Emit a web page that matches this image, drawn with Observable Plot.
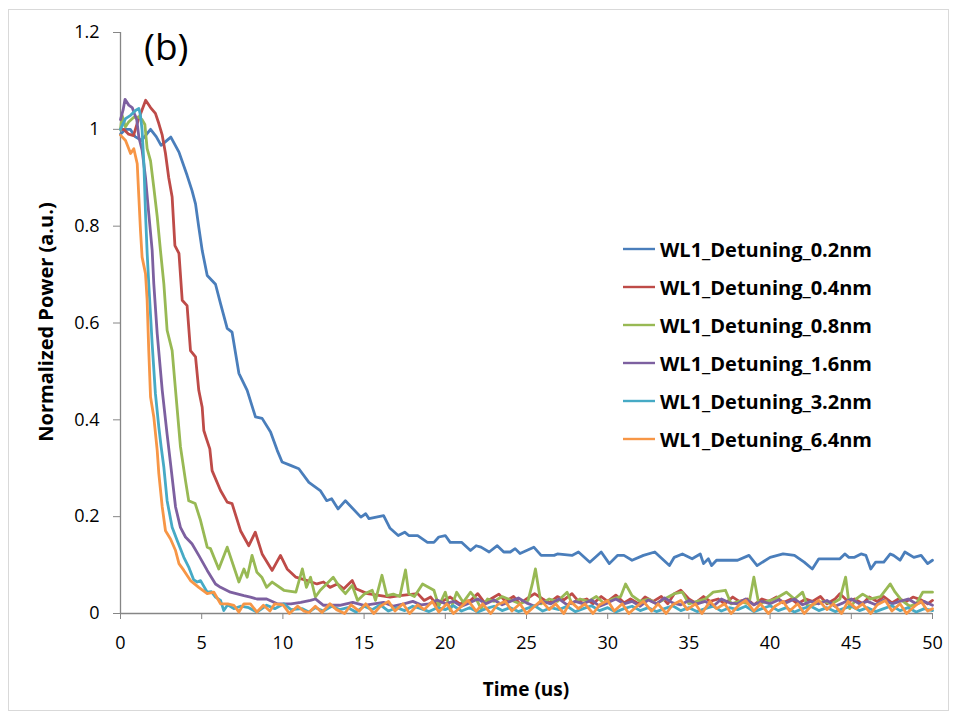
<!DOCTYPE html>
<html><head><meta charset="utf-8">
<script src="https://cdn.jsdelivr.net/npm/d3@7"></script>
<script src="https://cdn.jsdelivr.net/npm/@observablehq/plot@0.6"></script>
<style>
body{margin:0;background:#fff;}
#wrap{position:relative;width:956px;height:719px;font-family:"Open Sans",sans-serif;color:#000;overflow:hidden}
#frame{position:absolute;left:8px;top:9px;width:941px;height:702px;border:1px solid #d9d9d9;box-sizing:border-box;pointer-events:none}
#chart{position:absolute;left:0;top:0}
.lbl{position:absolute;font-weight:bold;font-size:19px;white-space:nowrap}
#xlab{left:0;width:1052px;top:676px;text-align:center}
#ylab{left:45px;top:322px;transform:translate(-50%,-50%) rotate(-90deg);font-size:20px}
#panel{position:absolute;left:144px;top:27px;font-size:37px;line-height:1}
#legend{position:absolute;left:623px;top:230px}
#legend .row{height:38px;display:flex;align-items:center;font-weight:bold;font-size:20px;white-space:nowrap}
#legend svg{margin-right:5px}
</style></head>
<body>
<div id="wrap">
  <div id="chart"></div>
  <div id="frame"></div>
  <div id="panel">(b)</div>
  <div id="xlab" class="lbl">Time (us)</div>
  <div id="ylab" class="lbl">Normalized Power (a.u.)</div>
  <div id="legend"></div>
</div>
<script>
const seriesNames = ["WL1_Detuning_0.2nm","WL1_Detuning_0.4nm","WL1_Detuning_0.8nm","WL1_Detuning_1.6nm","WL1_Detuning_3.2nm","WL1_Detuning_6.4nm"];
const seriesColors = ["#4A7EBB","#BE4B48","#98B954","#7D60A0","#46AAC5","#F79646"];
const xTicks = [0,5,10,15,20,25,30,35,40,45,50];
const yTicks = [0,0.2,0.4,0.6,0.8,1,1.2];
const yTickLabels = ["0","0.2","0.4","0.6","0.8","1","1.2"];

// [time (us), normalized power]
const det02 = [[0,0.99],[0.3,1.0],[0.6,1.0],[0.9,0.985],[1.3,0.977],[1.85,1.0],[2.2,0.985],[2.5,0.967],[3.1,0.984],[3.6,0.953],[4.1,0.905],[4.4,0.874],[4.62,0.846],[4.82,0.798],[5.03,0.75],[5.34,0.698],[5.85,0.68],[6.16,0.64],[6.57,0.589],[6.87,0.581],[7.29,0.496],[7.8,0.461],[8.31,0.406],[8.72,0.403],[9.24,0.375],[9.65,0.337],[9.95,0.313],[10.47,0.306],[10.98,0.299],[11.6,0.271],[12.3,0.254],[12.7,0.233],[13.0,0.237],[13.4,0.216],[13.85,0.233],[14.8,0.199],[15.1,0.206],[15.3,0.196],[16.2,0.202],[16.6,0.176],[17.1,0.161],[17.5,0.168],[17.75,0.161],[18.3,0.161],[18.9,0.147],[19.3,0.147],[19.6,0.158],[20.0,0.161],[20.3,0.147],[21.0,0.147],[21.55,0.130],[21.9,0.14],[22.2,0.137],[22.7,0.127],[23.2,0.14],[23.6,0.127],[24.0,0.127],[24.3,0.134],[24.6,0.124],[25.45,0.137],[25.9,0.12],[26.7,0.12],[26.9,0.123],[27.8,0.12],[28.2,0.127],[28.9,0.106],[29.6,0.127],[30.1,0.103],[30.6,0.12],[31.0,0.12],[31.5,0.11],[32.2,0.12],[32.9,0.127],[33.25,0.116],[33.8,0.099],[34.1,0.116],[34.6,0.123],[35.2,0.113],[35.7,0.123],[35.9,0.103],[36.2,0.113],[36.4,0.099],[36.7,0.11],[38.0,0.11],[38.7,0.12],[39.2,0.099],[40.0,0.116],[40.8,0.123],[41.5,0.12],[42.1,0.106],[42.6,0.092],[43.0,0.113],[44.3,0.113],[44.6,0.123],[44.85,0.116],[45.2,0.116],[45.6,0.123],[45.9,0.12],[46.2,0.092],[46.5,0.106],[47.0,0.106],[47.4,0.123],[47.6,0.12],[48.0,0.11],[48.3,0.127],[48.85,0.116],[49.3,0.12],[49.7,0.103],[50,0.11]];

const det04 = [[0,1.0],[0.2,1.0],[0.5,0.99],[0.8,0.987],[1.1,1.02],[1.55,1.06],[1.85,1.045],[2.15,1.033],[2.36,1.012],[2.57,0.988],[2.77,0.95],[2.97,0.9],[3.18,0.86],[3.35,0.76],[3.6,0.744],[3.8,0.647],[4.1,0.636],[4.31,0.543],[4.62,0.53],[4.82,0.461],[5.03,0.426],[5.13,0.378],[5.3,0.36],[5.5,0.34],[5.64,0.295],[6.16,0.254],[6.57,0.23],[6.87,0.227],[7.39,0.171],[7.9,0.14],[8.3,0.168],[8.72,0.123],[9.34,0.089],[9.85,0.12],[10.26,0.092],[10.8,0.075],[11.5,0.068],[12.1,0.061],[12.5,0.065],[12.9,0.054],[13.35,0.061],[13.75,0.051],[14.27,0.068],[14.5,0.051],[15.2,0.041],[16.0,0.037],[16.6,0.034],[17.2,0.037],[18.3,0.041],[18.7,0.027],[19.1,0.034],[19.5,0.017],[19.9,0.027],[20.3,0.034],[20.9,0.02],[21.55,0.027],[22.0,0.041],[22.4,0.023],[22.8,0.03],[23.3,0.04],[23.7,0.025],[24.2,0.035],[24.6,0.02],[25.0,0.03],[25.5,0.041],[26.0,0.03],[26.4,0.022],[26.9,0.035],[27.3,0.028],[27.8,0.041],[28.2,0.025],[28.7,0.03],[29.1,0.02],[29.6,0.035],[30.0,0.025],[30.5,0.038],[31.0,0.022],[31.4,0.03],[31.9,0.02],[32.3,0.034],[32.8,0.025],[33.3,0.035],[33.7,0.02],[34.1,0.041],[34.5,0.048],[35.0,0.03],[35.4,0.022],[35.9,0.035],[36.3,0.025],[36.8,0.03],[37.2,0.02],[37.7,0.034],[38.1,0.025],[38.6,0.03],[39.0,0.018],[39.5,0.03],[39.9,0.025],[40.4,0.034],[40.8,0.022],[41.3,0.03],[41.7,0.02],[42.2,0.03],[42.6,0.025],[43.1,0.035],[43.5,0.02],[44.0,0.03],[44.3,0.041],[44.8,0.025],[45.2,0.03],[45.7,0.02],[46.1,0.034],[46.6,0.025],[47.0,0.035],[47.5,0.022],[47.9,0.03],[48.4,0.025],[48.8,0.034],[49.3,0.028],[49.7,0.02],[50,0.027]];

const det08 = [[0,1.0],[0.1,1.029],[0.3,1.005],[0.5,1.015],[0.82,1.025],[1.13,1.025],[1.33,1.02],[1.5,1.01],[1.64,0.96],[1.85,0.935],[2.05,0.88],[2.26,0.82],[2.46,0.75],[2.67,0.681],[2.87,0.585],[3.18,0.543],[3.39,0.461],[3.69,0.345],[4.0,0.275],[4.2,0.233],[4.6,0.227],[4.93,0.192],[5.34,0.137],[5.54,0.134],[6.05,0.092],[6.57,0.137],[6.98,0.096],[7.29,0.065],[7.6,0.092],[7.8,0.075],[8.1,0.12],[8.4,0.085],[8.7,0.075],[9.0,0.054],[9.34,0.065],[10.06,0.048],[10.8,0.044],[11.2,0.092],[11.45,0.054],[11.7,0.075],[12.0,0.034],[12.3,0.048],[13.1,0.075],[13.5,0.054],[13.85,0.041],[14.27,0.058],[14.6,0.027],[15.0,0.04],[15.5,0.048],[15.7,0.027],[16.1,0.079],[16.4,0.037],[16.8,0.04],[17.2,0.035],[17.55,0.09],[17.75,0.041],[18.1,0.035],[18.6,0.061],[19.3,0.048],[19.6,0.015],[20.0,0.044],[20.3,0.006],[20.7,0.044],[21.1,0.023],[21.55,0.044],[21.9,0.03],[22.2,0.01],[22.6,0.03],[23.0,0.025],[23.5,0.035],[24.1,0.027],[24.6,0.02],[25.1,0.027],[25.35,0.06],[25.55,0.092],[25.75,0.05],[25.9,0.02],[26.4,0.03],[26.9,0.025],[27.5,0.044],[27.8,0.02],[28.3,0.03],[28.8,0.025],[29.3,0.035],[29.8,0.02],[30.3,0.03],[30.8,0.035],[31.1,0.061],[31.5,0.037],[32.0,0.025],[32.5,0.03],[33.0,0.02],[33.5,0.03],[34.1,0.041],[34.6,0.044],[35.0,0.02],[35.5,0.025],[36.0,0.03],[36.5,0.044],[37.25,0.048],[37.6,0.02],[38.1,0.025],[38.7,0.02],[39.0,0.075],[39.3,0.02],[39.8,0.025],[40.3,0.03],[41.0,0.044],[41.5,0.03],[42.0,0.044],[42.3,0.015],[42.8,0.02],[43.3,0.025],[43.8,0.02],[44.3,0.03],[44.65,0.075],[44.9,0.01],[45.3,0.03],[45.7,0.04],[46.2,0.03],[46.8,0.035],[47.4,0.061],[47.7,0.044],[48.1,0.027],[48.6,0.015],[49.0,0.02],[49.4,0.044],[50,0.044]];

const det16 = [[0,1.02],[0.16,1.04],[0.28,1.062],[0.51,1.05],[0.72,1.045],[0.86,1.032],[1.0,1.02],[1.13,0.984],[1.33,0.957],[1.54,0.90],[1.74,0.826],[1.95,0.75],[2.05,0.681],[2.26,0.578],[2.57,0.461],[2.87,0.37],[3.08,0.31],[3.39,0.22],[3.69,0.178],[4.0,0.158],[4.4,0.144],[4.82,0.12],[5.34,0.089],[5.85,0.061],[6.16,0.054],[6.77,0.044],[7.6,0.037],[8.0,0.034],[8.4,0.03],[9.0,0.03],[9.65,0.02],[10.5,0.02],[11.1,0.023],[11.7,0.027],[12.0,0.03],[12.5,0.017],[13.5,0.017],[14.3,0.023],[15.0,0.017],[15.6,0.02],[16.2,0.023],[16.8,0.015],[17.45,0.02],[18.0,0.025],[18.5,0.018],[19.0,0.02],[19.5,0.028],[20.0,0.02],[20.5,0.025],[21.0,0.015],[21.5,0.022],[22.0,0.03],[22.5,0.02],[23.0,0.028],[23.5,0.018],[24.0,0.025],[24.5,0.032],[25.0,0.022],[25.5,0.015],[26.0,0.025],[26.5,0.02],[27.0,0.03],[27.5,0.018],[28.0,0.025],[28.5,0.02],[29.0,0.028],[29.5,0.015],[30.0,0.022],[30.5,0.03],[31.0,0.02],[31.5,0.025],[32.0,0.015],[32.5,0.028],[33.0,0.02],[33.5,0.032],[34.0,0.022],[34.5,0.018],[35.0,0.027],[35.5,0.02],[36.0,0.025],[36.5,0.015],[37.0,0.03],[37.5,0.022],[38.0,0.02],[38.5,0.03],[39.0,0.018],[39.5,0.025],[40.0,0.02],[40.5,0.028],[41.0,0.022],[41.5,0.03],[42.0,0.018],[42.5,0.025],[43.0,0.02],[43.5,0.027],[44.0,0.015],[44.5,0.022],[45.0,0.03],[45.5,0.02],[46.0,0.025],[46.5,0.018],[47.0,0.028],[47.5,0.02],[48.0,0.025],[48.5,0.03],[49.0,0.02],[49.5,0.025],[50,0.017]];

const det32 = [[0,1.0],[0.31,1.022],[0.62,1.029],[0.92,1.039],[1.13,1.043],[1.23,1.029],[1.33,0.998],[1.44,0.929],[1.54,0.826],[1.64,0.745],[1.74,0.681],[1.95,0.557],[2.15,0.454],[2.36,0.385],[2.5,0.345],[2.67,0.302],[2.87,0.233],[3.18,0.178],[3.49,0.151],[3.9,0.116],[4.2,0.096],[4.5,0.07],[4.72,0.065],[4.93,0.068],[5.34,0.044],[5.6,0.045],[5.85,0.034],[6.16,0.027],[6.36,0.006],[6.6,0.018],[6.98,0.01],[7.4,0.015],[7.9,0.012],[8.4,0.003],[9.0,0.017],[9.5,0.01],[10.06,0.02],[10.5,0.008],[11.2,0.01],[11.6,0.003],[12.0,0.012],[12.5,0.005],[13.0,0.015],[13.5,0.008],[14.0,0.012],[14.5,0.003],[15.0,0.015],[15.5,0.008],[16.0,0.018],[16.5,0.005],[17.0,0.012],[17.5,0.006],[18.0,0.015],[18.5,0.01],[19.0,0.004],[19.5,0.012],[20.0,0.008],[20.5,0.016],[21.0,0.005],[21.5,0.012],[22.0,0.003],[22.5,0.01],[23.0,0.015],[23.5,0.006],[24.0,0.012],[24.5,0.004],[25.0,0.01],[25.5,0.016],[26.0,0.005],[26.5,0.012],[27.0,0.008],[27.5,0.015],[28.0,0.004],[28.5,0.01],[29.0,0.016],[29.5,0.006],[30.0,0.012],[30.5,0.003],[31.0,0.01],[31.5,0.015],[32.0,0.006],[32.5,0.012],[33.0,0.004],[33.5,0.01],[34.0,0.016],[34.5,0.006],[35.0,0.012],[35.5,0.004],[36.0,0.01],[36.5,0.015],[37.0,0.005],[37.5,0.012],[38.0,0.008],[38.5,0.015],[39.0,0.004],[39.5,0.01],[40.0,0.016],[40.5,0.006],[41.0,0.012],[41.5,0.003],[42.0,0.01],[42.5,0.015],[43.0,0.006],[43.5,0.012],[44.0,0.004],[44.5,0.01],[45.0,0.015],[45.5,0.006],[46.0,0.012],[46.5,0.004],[47.0,0.01],[47.5,0.016],[48.0,0.006],[48.5,0.012],[49.0,0.003],[49.5,0.01],[50,0.006]];

const det64 = [[0,0.988],[0.31,0.977],[0.51,0.96],[0.62,0.95],[0.82,0.96],[1.03,0.929],[1.13,0.86],[1.23,0.791],[1.33,0.736],[1.54,0.702],[1.64,0.647],[1.74,0.543],[1.85,0.447],[2.05,0.406],[2.26,0.337],[2.36,0.289],[2.57,0.22],[2.77,0.171],[3.08,0.154],[3.39,0.13],[3.6,0.103],[3.9,0.089],[4.31,0.068],[4.82,0.054],[5.34,0.041],[5.75,0.044],[6.16,0.02],[6.6,0.02],[6.98,0.017],[7.29,0.003],[7.6,0.02],[8.0,0.02],[8.4,0.003],[8.8,0.017],[9.2,0.005],[9.5,0.02],[10.0,0.018],[10.4,0.0],[10.9,0.015],[11.3,0.005],[11.6,0.002],[12.0,0.015],[12.4,0.002],[12.9,0.02],[13.3,0.008],[13.8,0.0],[14.2,0.018],[14.7,0.005],[15.1,0.02],[15.6,0.0],[16.0,0.015],[16.5,0.025],[16.9,0.005],[17.4,0.02],[17.8,0.0],[18.3,0.018],[18.7,0.008],[19.2,0.025],[19.6,0.003],[20.1,0.02],[20.5,0.0],[21.0,0.015],[21.4,0.027],[21.9,0.005],[22.3,0.02],[22.8,0.0],[23.2,0.018],[23.7,0.025],[24.1,0.005],[24.6,0.02],[25.0,0.0],[25.5,0.015],[25.9,0.027],[26.4,0.008],[26.8,0.02],[27.3,0.0],[27.7,0.025],[28.2,0.01],[28.6,0.02],[29.1,0.0],[29.5,0.018],[30.0,0.027],[30.4,0.005],[30.9,0.02],[31.3,0.0],[31.8,0.015],[32.2,0.025],[32.7,0.005],[33.1,0.02],[33.6,0.0],[34.0,0.018],[34.5,0.027],[34.9,0.008],[35.4,0.02],[35.8,0.0],[36.3,0.025],[36.7,0.01],[37.2,0.02],[37.6,0.0],[38.1,0.018],[38.5,0.027],[39.0,0.005],[39.4,0.02],[39.9,0.0],[40.3,0.015],[40.8,0.025],[41.2,0.005],[41.7,0.02],[42.1,0.0],[42.6,0.018],[43.0,0.027],[43.5,0.008],[43.9,0.02],[44.4,0.0],[44.8,0.025],[45.3,0.01],[45.7,0.02],[46.2,0.0],[46.6,0.018],[47.1,0.027],[47.5,0.005],[48.0,0.02],[48.4,0.0],[48.9,0.015],[49.3,0.025],[49.7,0.005],[50,0.01]];

const allSeries = [det02, det04, det08, det16, det32, det64];
const rows = allSeries.flatMap((s, i) => s.map(([t, v]) => ({t, v, series: seriesNames[i]})));

const axisGray = "#868686";
const chart = Plot.plot({
  width: 956, height: 719,
  marginLeft: 120, marginRight: 24, marginTop: 32, marginBottom: 106,
  style: {fontFamily: '"Open Sans", sans-serif', fontSize: "18px", color: "#000", background: "transparent", overflow: "visible"},
  x: {domain: [0, 50]},
  y: {domain: [0, 1.2]},
  color: {domain: seriesNames, range: seriesColors},
  marks: [
    Plot.axisY({ticks: yTicks, tickFormat: (d, i) => yTickLabels[i], tickSize: 7, tickPadding: 14, stroke: axisGray, fill: "#000", label: null}),
    Plot.axisX({ticks: xTicks, tickFormat: d => String(d), tickSize: 6, tickPadding: 17, stroke: axisGray, fill: "#000", label: null}),
    Plot.ruleX([0], {stroke: axisGray, strokeWidth: 1.3}),
    Plot.ruleY([0], {stroke: axisGray, strokeWidth: 1.3}),
    Plot.lineY(rows, {x: "t", y: "v", z: "series", stroke: "series", strokeWidth: 2.8, strokeLinejoin: "round", strokeLinecap: "round"})
  ]
});
document.getElementById("chart").appendChild(chart);

const legend = document.getElementById("legend");
seriesNames.forEach((name, i) => {
  const row = document.createElement("div");
  row.className = "row";
  row.innerHTML = `<svg width="32" height="6"><line x1="0" y1="3" x2="32" y2="3" stroke="${seriesColors[i]}" stroke-width="2.4"/></svg><span>${name}</span>`;
  legend.appendChild(row);
});
</script>
</body></html>
